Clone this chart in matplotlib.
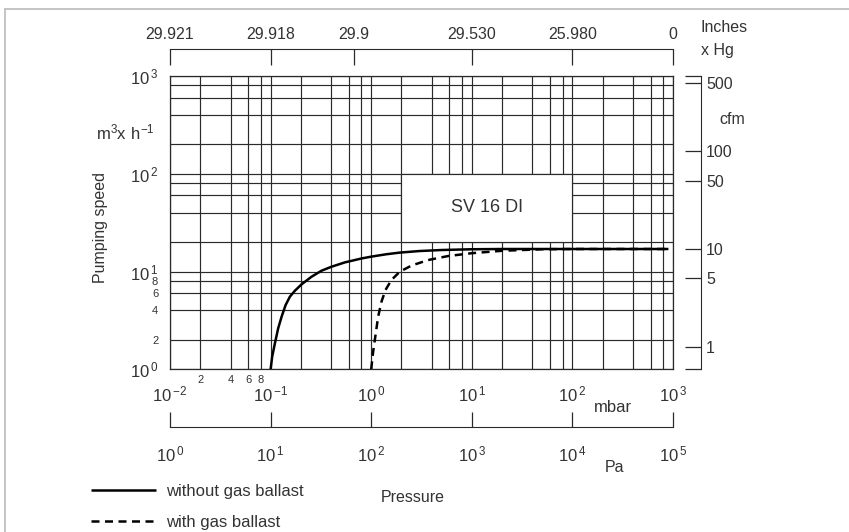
import numpy as np
import matplotlib
matplotlib.use("Agg")
import matplotlib.pyplot as plt
from matplotlib.patches import Rectangle
from matplotlib.lines import Line2D
from matplotlib.ticker import FixedLocator, NullLocator, FuncFormatter

plt.rcParams['font.family'] = 'Liberation Sans'
plt.rcParams['mathtext.fontset'] = 'custom'
plt.rcParams['mathtext.rm'] = 'Liberation Sans'
plt.rcParams['text.color'] = '#333333'
plt.rcParams['xtick.color'] = '#333333'
plt.rcParams['ytick.color'] = '#333333'

# pumping speed curves (mbar, m3/h)
p_no_ballast = [0.1, 0.1037, 0.1103, 0.119, 0.1286, 0.141, 0.1555, 0.1743, 0.2032,
                0.2553, 0.321, 0.4035, 0.547, 0.801, 1.0, 1.4, 1.9, 3.0, 5.0,
                10, 20, 100, 900]
s_no_ballast = [1.0, 1.35, 1.84, 2.63, 3.45, 4.54, 5.53, 6.36, 7.4,
                8.85, 10.2, 11.2, 12.4, 13.6, 14.2, 15.0, 15.6, 16.2, 16.6,
                16.9, 17.0, 17.0, 17.0]

p_ballast = [1.0, 1.045, 1.104, 1.172, 1.265, 1.386, 1.589, 1.922, 2.51,
             3.67, 5.8, 10, 20, 50, 100, 900]
s_ballast = [1.0, 1.51, 2.24, 3.45, 4.91, 6.47, 8.19, 9.95, 11.5,
             13.1, 14.4, 15.4, 16.3, 16.9, 17.0, 17.0]

mbar_ticks = [1e-2, 1e-1, 1e0, 1e1, 1e2, 1e3]
mbar_exp = [-2, -1, 0, 1, 2, 3]
pa_exp = [0, 1, 2, 3, 4, 5]
speed_ticks = [1, 10, 100, 1000]
speed_exp = [0, 1, 2, 3]

inhg_pos = [0.01, 0.1, 0.67, 10, 100, 1000]
inhg_labels = ['29.921', '29.918', '29.9', '29.530', '25.980', '0']

cfm_per_m3h = 0.5886
cfm_ticks = [1, 5, 10, 50, 100, 500]

W, H = 849, 532
fig = plt.figure(figsize=(W / 100, H / 100), dpi=100)


def fx(x):
    return x / W


def fy(y):
    return 1 - y / H


def pw(e):
    if e < 0:
        return r'$\mathregular{10^{\,{-}%d}}$' % -e
    return r'$\mathregular{10^{\,%d}}$' % e


grid_c = '#2a2a2a'
ax = fig.add_axes([fx(170), fy(369.3), fx(673) - fx(170), fy(76) - fy(369.3)])
ax.set_xscale('log')
ax.set_yscale('log')
ax.set_xlim(1e-2, 1e3)
ax.set_ylim(1, 1e3)

# grid at 1, 2, 4, 6, 8 of each decade
ax.xaxis.set_major_locator(FixedLocator(mbar_ticks))
ax.yaxis.set_major_locator(FixedLocator(speed_ticks))
minor_x = [m * 10.0 ** e for e in range(-2, 3) for m in (2, 4, 6, 8)]
minor_y = [m * 10.0 ** e for e in range(0, 3) for m in (2, 4, 6, 8)]
ax.xaxis.set_minor_locator(FixedLocator(minor_x))
ax.yaxis.set_minor_locator(FixedLocator(minor_y))
ax.set_xticklabels([pw(e) for e in mbar_exp])
ax.set_yticklabels([pw(e) for e in speed_exp])
ax.xaxis.set_minor_formatter(FuncFormatter(lambda v, p: '%d' % round(v * 100) if v < 0.095 else ''))
ax.yaxis.set_minor_formatter(FuncFormatter(lambda v, p: '%d' % round(v) if v < 9.5 else ''))
ax.tick_params(which='major', length=0, labelsize=12)
ax.tick_params(axis='x', which='major', pad=11)
ax.tick_params(axis='y', which='major', pad=8.5)
ax.tick_params(which='minor', length=0, labelsize=8)
ax.tick_params(axis='x', which='minor', pad=4)
ax.tick_params(axis='y', which='minor', pad=8.5)
ax.grid(True, which='both', color=grid_c, lw=0.85)
for s in ax.spines.values():
    s.set_color(grid_c)
    s.set_linewidth(0.9)

# white label box over the grid
ax.add_patch(Rectangle((2, 20), 98, 80, facecolor='white', edgecolor=grid_c,
                       lw=0.85, zorder=2))
ax.text(np.sqrt(2 * 100), np.sqrt(20 * 100), 'SV 16 DI', ha='center', va='center',
        fontsize=13, zorder=3)

l1, = ax.plot(p_no_ballast, s_no_ballast, color='black', lw=1.8, zorder=4,
              solid_capstyle='butt', solid_joinstyle='round')
l2, = ax.plot(p_ballast, s_ballast, color='black', lw=1.8, zorder=4,
              dashes=(3.2, 2.2))

# top axis: inches Hg
axt = ax.twiny()
axt.set_xscale('log')
axt.set_xlim(1e-2, 1e3)
axt.xaxis.set_major_locator(FixedLocator(inhg_pos))
axt.xaxis.set_minor_locator(NullLocator())
axt.set_xticklabels(inhg_labels, ha='left')
axt.get_xticklabels()[-1].set_ha('right')
axt.spines['top'].set_position(('outward', 19.2))
for k in ('bottom', 'left', 'right'):
    axt.spines[k].set_visible(False)
axt.spines['top'].set_color(grid_c)
axt.tick_params(axis='x', direction='in', length=11.5, width=0.9, pad=5,
                labelsize=11.5, color=grid_c)

# bottom axis: Pa
axp = ax.twiny()
axp.set_xscale('log')
axp.set_xlim(1e-2, 1e3)
axp.xaxis.set_ticks_position('bottom')
axp.xaxis.set_label_position('bottom')
axp.xaxis.set_major_locator(FixedLocator(mbar_ticks))
axp.xaxis.set_minor_locator(NullLocator())
axp.set_xticklabels([pw(e) for e in pa_exp])
axp.spines['bottom'].set_position(('outward', 41.3))
for k in ('top', 'left', 'right'):
    axp.spines[k].set_visible(False)
axp.spines['bottom'].set_color(grid_c)
axp.tick_params(axis='x', direction='in', length=10.8, width=0.9, pad=13,
                labelsize=12, color=grid_c)

# right axis: cfm
axr = ax.twinx()
axr.set_yscale('log')
axr.set_ylim(cfm_per_m3h, 1000 * cfm_per_m3h)
axr.yaxis.set_major_locator(FixedLocator([cfm_per_m3h * 1.001] + cfm_ticks + [999 * cfm_per_m3h]))
axr.yaxis.set_minor_locator(NullLocator())
axr.set_yticklabels([''] + [str(v) for v in cfm_ticks] + [''])
axr.spines['right'].set_position(('outward', 19.9))
for k in ('top', 'left', 'bottom'):
    axr.spines[k].set_visible(False)
axr.spines['right'].set_color(grid_c)
axr.tick_params(axis='y', direction='in', length=11.5, width=0.9, pad=4,
                labelsize=11.5, color=grid_c)

# labels
fig.text(fx(701), fy(27), 'Inches', ha='left', va='center', fontsize=11.5)
fig.text(fx(701), fy(51), 'x Hg', ha='left', va='center', fontsize=11.5)
fig.text(fx(732), fy(119), 'cfm', ha='center', va='center', fontsize=11.5)
fig.text(fx(613), fy(407), 'mbar', ha='center', va='center', fontsize=12)
fig.text(fx(615), fy(468), 'Pa', ha='center', va='center', fontsize=11.5)
fig.text(fx(413), fy(497), 'Pressure', ha='center', va='center', fontsize=11.5)
fig.text(fx(125), fy(132), r'$\mathregular{m^3x\ h^{-1}}$', ha='center', va='center',
         fontsize=12)
fig.text(fx(100), fy(227), 'Pumping speed', ha='center', va='center', rotation=90,
         fontsize=11.5)

fig.legend([l1, l2], ['without gas ballast', 'with gas ballast'], loc='upper left',
           bbox_to_anchor=(fx(91), fy(484)), frameon=False, fontsize=12,
           handlelength=3.9, handletextpad=0.6, labelspacing=0.95, borderpad=0,
           borderaxespad=0)

# light outer frame
fig.add_artist(Line2D([fx(5), 1.0], [fy(9), fy(9)], transform=fig.transFigure,
                      color='#c4c4c4', lw=1.4))
fig.add_artist(Line2D([fx(5), fx(5)], [0, fy(9)], transform=fig.transFigure,
                      color='#c4c4c4', lw=1.4))

fig.savefig('out.png', dpi=100)
